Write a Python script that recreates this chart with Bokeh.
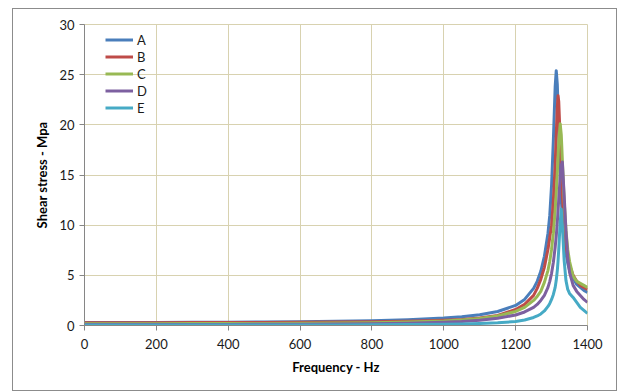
from bokeh.plotting import figure
from bokeh.models import Range1d, Legend, LegendItem, FixedTicker
from bokeh.embed import file_html
from bokeh.resources import INLINE

freq = [0, 100, 200, 300, 400, 500, 600, 700, 800, 900, 1000, 1050, 1100, 1150, 1200,
        1225, 1250, 1260, 1270, 1280, 1290, 1295, 1300, 1305, 1310, 1313, 1316, 1318,
        1320, 1324, 1327, 1330, 1335, 1340, 1345, 1350, 1360, 1370, 1380, 1390, 1400]

A = [0.30, 0.30, 0.31, 0.32, 0.33, 0.35, 0.38, 0.42, 0.48, 0.58, 0.75, 0.88, 1.08, 1.40, 2.0,
     2.6, 3.7, 4.4, 5.4, 6.9, 9.2, 11.0, 14.0, 18.5, 23.8, 25.4, 24.0, 21.8,
     19.3, 15.0, 12.6, 10.8, 8.6, 7.2, 6.2, 5.5, 4.7, 4.1, 3.8, 3.5, 3.3]
B = [0.28, 0.28, 0.28, 0.29, 0.29, 0.30, 0.32, 0.34, 0.37, 0.43, 0.52, 0.60, 0.75, 1.0, 1.6,
     2.1, 3.0, 3.7, 4.6, 5.8, 7.6, 8.8, 10.0, 12.5, 16.0, 19.0, 21.8, 22.9,
     22.3, 18.5, 15.5, 13.0, 10.0, 8.0, 6.8, 6.0, 5.0, 4.4, 4.0, 3.8, 3.6]
C = [0.18, 0.18, 0.18, 0.19, 0.19, 0.20, 0.22, 0.24, 0.28, 0.34, 0.45, 0.55, 0.70, 0.95, 1.4,
     1.8, 2.5, 2.9, 3.4, 4.3, 5.5, 6.4, 7.6, 9.2, 11.5, 13.2, 15.3, 16.8,
     18.3, 20.1, 19.0, 16.5, 12.5, 9.5, 7.6, 6.4, 4.9, 4.4, 4.2, 4.0, 3.8]
D = [0.10, 0.10, 0.10, 0.11, 0.11, 0.12, 0.13, 0.14, 0.17, 0.22, 0.32, 0.40, 0.52, 0.72, 1.05,
     1.35, 1.8, 2.1, 2.5, 3.0, 3.8, 4.4, 5.2, 6.3, 7.8, 8.9, 10.3, 11.4,
     12.6, 14.8, 16.0, 16.3, 13.0, 9.5, 6.8, 5.3, 4.0, 3.4, 3.0, 2.6, 2.3]
E = [0.05, 0.05, 0.05, 0.05, 0.05, 0.05, 0.05, 0.06, 0.07, 0.09, 0.12, 0.15, 0.20, 0.27, 0.40,
     0.55, 0.8, 0.95, 1.15, 1.45, 1.9, 2.2, 2.6, 3.1, 3.8, 4.5, 5.5, 6.4,
     7.6, 10.3, 11.6, 10.0, 6.5, 4.5, 3.6, 3.2, 2.8, 2.3, 1.8, 1.5, 1.2]

series_names = ["A", "B", "C", "D", "E"]
series_values = [A, B, C, D, E]
colors = ["#4A7EBB", "#BE4B48", "#98B954", "#7D60A0", "#46AAC5"]

x_ticks = [0, 200, 400, 600, 800, 1000, 1200, 1400]
y_ticks = [0, 5, 10, 15, 20, 25, 30]

FONT = "Lato"
W, H = 605, 383
p = figure(width=W, height=H, x_range=Range1d(0, 1400), y_range=Range1d(0, 30),
           output_backend="svg", toolbar_location=None,
           margin=(8, 0, 0, 12),
           styles={"border": "1px solid #8c8c8c", "box-sizing": "border-box"},
           min_border_left=71, min_border_right=31, min_border_top=15,
           min_border_bottom=H - 316)
p.background_fill_color = "white"
p.border_fill_color = "white"
p.outline_line_color = "#D8D2B0"

grid_color = "#D8D2B0"
p.xgrid.grid_line_color = grid_color
p.ygrid.grid_line_color = grid_color
p.xaxis.ticker = FixedTicker(ticks=x_ticks)
p.yaxis.ticker = FixedTicker(ticks=y_ticks)

for ax in (p.xaxis, p.yaxis):
    ax.axis_line_color = "#868686"
    ax.major_tick_line_color = "#868686"
    ax.major_tick_out = 5
    ax.major_tick_in = 0
    ax.minor_tick_line_color = None
    ax.major_label_text_font = FONT
    ax.major_label_text_font_size = "13px"
    ax.major_label_text_color = "#1a1a1a"
    ax.axis_label_text_font = FONT
    ax.axis_label_text_font_size = "13px"
    ax.axis_label_text_font_style = "bold"
    ax.axis_label_text_color = "#000000"

p.xaxis.axis_label = "Frequency - Hz"
p.yaxis.axis_label = "Shear stress - Mpa"
p.xaxis.major_label_standoff = 8
p.yaxis.major_label_standoff = 5
p.xaxis.axis_label_standoff = 7
p.yaxis.axis_label_standoff = 6

items = []
for name, vals, col in zip(series_names, series_values, colors):
    r = p.line(freq, vals, line_color=col, line_width=3, line_join="round")
    items.append(LegendItem(label=name, renderers=[r]))

legend = Legend(items=items, location=(21, 209))
legend.background_fill_alpha = 0
legend.border_line_alpha = 0
legend.padding = 0
legend.margin = 0
legend.spacing = 0
legend.glyph_width = 28
legend.glyph_height = 17
legend.label_height = 17
legend.label_standoff = 4
legend.label_text_font = FONT
legend.label_text_font_size = "13px"
legend.label_text_color = "#1a1a1a"
p.add_layout(legend)

open("out.html", "w").write(file_html(p, INLINE))
